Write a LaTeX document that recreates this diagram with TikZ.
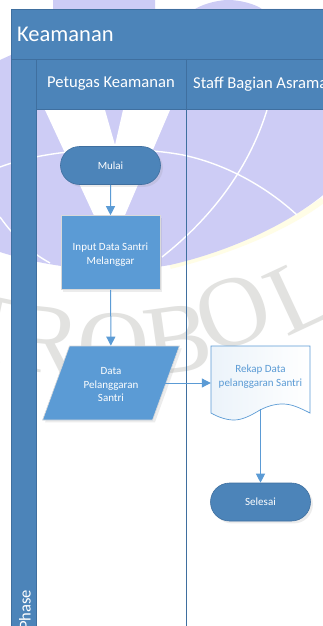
\documentclass[tikz,border=0pt]{standalone}
\usepackage{fontspec}
\setmainfont{Carlito}
\usetikzlibrary{arrows.meta,shapes.geometric,shapes.misc,shadows}
\definecolor{hdr}{HTML}{4C84B9}
\definecolor{hdrline}{HTML}{3F6F9F}
\definecolor{fillb}{HTML}{5B9BD5}
\definecolor{lav}{HTML}{CDCCF5}
\definecolor{wm}{HTML}{E2E2E0}
\definecolor{cream}{HTML}{FFFDE6}
\tikzset{
 x=1pt,y=-1pt,
 band/.style={fill=hdr,draw=hdrline,line width=.8pt},
 lane/.style={draw=hdrline,line width=.8pt},
 term/.style={fill=hdr,draw=hdrline,line width=.6pt,rounded rectangle,minimum width=100pt,minimum height=38pt,inner sep=0pt,text=white,font=\fontsize{11}{13}\selectfont},
 proc/.style={fill=fillb,draw=white!70!gray,line width=.6pt,minimum width=99pt,minimum height=74pt,inner sep=0pt,text=white,align=center,font=\fontsize{11}{13.3}\selectfont},
 flow/.style={draw=fillb,line width=1pt,-{Triangle[length=9pt,width=9pt]}},
 hdrtext/.style={text=white,anchor=west,inner sep=0pt},
 wmark/.style={text=wm,font=\fontspec{Liberation Serif}\fontsize{100}{100}\selectfont,inner sep=0pt},
 arcw/.style={white,line width=1.4pt},
}
\begin{document}
\begin{tikzpicture}
\useasboundingbox (0,0) rectangle (323,626);
\fill[white] (0,0) rectangle (323,626);
% watermark
\begin{scope}
\clip (0,0) rectangle (323,626);
\node[wmark,rotate=-12] (wt) at (-8,330) {T};
\node[wmark,rotate=-6] (wr) at (47,340) {R};
\node[wmark,rotate=0] (wo) at (114,347) {O};
\node[wmark,rotate=8] (wb) at (178,340) {B};
\node[wmark,rotate=20] (wo2) at (233,312) {O};
\node[wmark,rotate=25] (wl) at (300,295) {L};
\draw[cream,line width=6pt] (323,200) .. controls (290,225) and (235,250) .. (170,266);
\fill[lav] (0,60) -- (11,55) -- (53,9) -- (53,0) -- (155,0) -- (155,9) -- (195,9) .. controls (205,3) and (220,0) .. (228,0) .. controls (240,0) and (255,4) .. (262,9) -- (323,9) -- (323,195) .. controls (290,222) and (235,250) .. (170,265) .. controls (110,275) and (50,268) .. (0,252) -- cycle;
\fill[white] (45,110) -- (105,110) -- (115,145) -- (123,110) -- (170,110) -- (110,250) -- cycle;
\draw[arcw] (0,167) .. controls (50,148) and (130,145) .. (183,155) .. controls (230,165) and (270,190) .. (297,215);
\draw[arcw] (267,110) .. controls (250,165) and (215,215) .. (162,257);
\draw[arcw] (0,217) .. controls (15,238) and (30,252) .. (50,263);
\end{scope}
% swimlane
\draw[lane] (186,109) -- (186,626);
\fill[hdr] (11,60) rectangle (36,626);
\draw[lane] (11,60) -- (11,626) (36,60) -- (36,626);
\fill[band] (11,9) rectangle (330,59);
\fill[band] (36,59) rectangle (330,109);
\draw[lane] (186,59) -- (186,109);
\node[hdrtext,font=\fontsize{22.5}{23}\selectfont] (title) at (17,34) {Keamanan};
\node[hdrtext,font=\fontsize{16.6}{17}\selectfont] (l1) at (47,84) {Petugas Keamanan};
\node[hdrtext,font=\fontsize{16.6}{17}\selectfont] (l2) at (193,84) {Staff Bagian Asrama};
\node[hdrtext,rotate=90,font=\fontsize{16.6}{17}\selectfont] (ph) at (25,630) {Phase};
% nodes
\node[term,drop shadow={opacity=.15}] (mulai) at (110.5,165.5) {Mulai};
\node[proc,drop shadow={opacity=.15}] (input) at (110.5,252.5) {\rule{0pt}{12pt}Input Data Santri\\Melanggar};
\node[trapezium,trapezium left angle=63,trapezium right angle=117,fill=fillb,draw=white!70!gray,line width=.6pt,minimum height=74pt,text width=60pt,trapezium stretches=true,minimum width=137pt,inner sep=0pt,text=white,align=center,font=\fontsize{11}{13.5}\selectfont,drop shadow={opacity=.15}] (data) at (111,383) {\rule{0pt}{11pt}Data\\Pelanggaran\\Santri};
\shade[left color=white!88!fillb,right color=white] (211,346) -- (310,346) -- (310,413) .. controls (300,408) and (292,404) .. (283,404) .. controls (274,404) and (268,406) .. (260,410) .. controls (250,416) and (242,420) .. (234,420) .. controls (226,420) and (218,417) .. (211,413) -- cycle;
\draw[fillb,line width=.7pt] (211,346) -- (310,346) -- (310,413) .. controls (300,408) and (292,404) .. (283,404) .. controls (274,404) and (268,406) .. (260,410) .. controls (250,416) and (242,420) .. (234,420) .. controls (226,420) and (218,417) .. (211,413) -- cycle;
\node[minimum width=99pt,minimum height=58pt,inner sep=0pt,text=fillb,align=center,font=\fontsize{11}{13.5}\selectfont] (rekap) at (260.5,376.5) {Rekap Data\\pelanggaran Santri};
\coordinate (rekapb) at (260.5,409);
\node[term,drop shadow={opacity=.15}] (selesai) at (260.5,502) {Selesai};
% connectors
\draw[flow] (mulai) -- (input);
\draw[flow] (input) -- (data);
\draw[flow] ([xshift=-4pt]data.east |- 0,383) -- (rekap.west |- 0,383);
\draw[flow] (rekapb) -- (selesai);
\end{tikzpicture}
\end{document}
